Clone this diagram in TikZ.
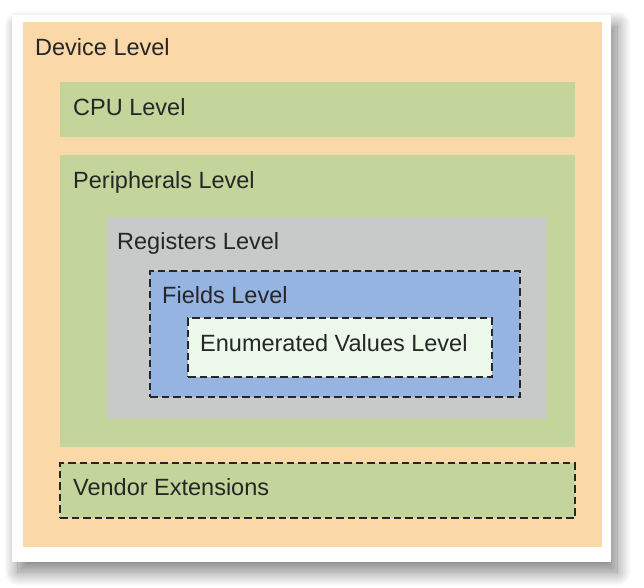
\documentclass[tikz,border=0pt]{standalone}
\usepackage{fontspec}
\setmainfont{Liberation Sans}
\usetikzlibrary{shadows.blur}
\definecolor{orangebg}{HTML}{FAD8A7}
\definecolor{greenbox}{HTML}{C3D59B}
\definecolor{graybox}{HTML}{C8CACA}
\definecolor{bluebox}{HTML}{96B4E2}
\definecolor{enumbox}{HTML}{EBF8EA}
\definecolor{txt}{HTML}{262626}
\tikzset{
  box/.style={draw=none, inner sep=0pt, outer sep=0pt, anchor=north west},
  dbox/.style={box, draw=black!85, line width=1.4pt, dash pattern=on 7.5pt off 4pt},
  lbl/.style={anchor=base west, inner sep=0pt, text=txt, font=\fontsize{23.5}{27}\selectfont}
}
\begin{document}
\begin{tikzpicture}[x=1pt,y=-1pt]
\useasboundingbox (0,0) rectangle (644,587);
% panel with shadow
\fill[white, blur shadow={shadow xshift=6pt, shadow yshift=-10pt, shadow blur radius=14pt, shadow blur steps=20, shadow opacity=50}] (12,15) rectangle (611,562);
\node[box, fill=orangebg, minimum width=579pt, minimum height=525pt] (device) at (23,22) {};
\node[box, fill=greenbox, minimum width=515pt, minimum height=55pt] (cpu) at (60,82) {};
\node[box, fill=greenbox, minimum width=515pt, minimum height=292pt] (periph) at (60,155) {};
\node[box, fill=graybox, minimum width=440pt, minimum height=202pt] (regs) at (107,217) {};
\node[dbox, fill=bluebox, minimum width=370pt, minimum height=126pt] (fields) at (150,271) {};
\node[dbox, fill=enumbox, minimum width=304pt, minimum height=59pt] (enum) at (188,318) {};
\node[dbox, fill=greenbox, minimum width=515pt, minimum height=55pt] (vendor) at (60,463) {};
% labels
\node[lbl] (tdevice) at (35,55) {Device Level};
\node[lbl] (tcpu) at (73,115) {CPU Level};
\node[lbl] (tperiph) at (73,188) {Peripherals Level};
\node[lbl] (tregs) at (117,249) {Registers Level};
\node[lbl] (tfields) at (162,303) {Fields Level};
\node[lbl] (tenum) at (200,351) {Enumerated Values Level};
\node[lbl] (tvendor) at (73,495) {Vendor Extensions};
\end{tikzpicture}
\end{document}
